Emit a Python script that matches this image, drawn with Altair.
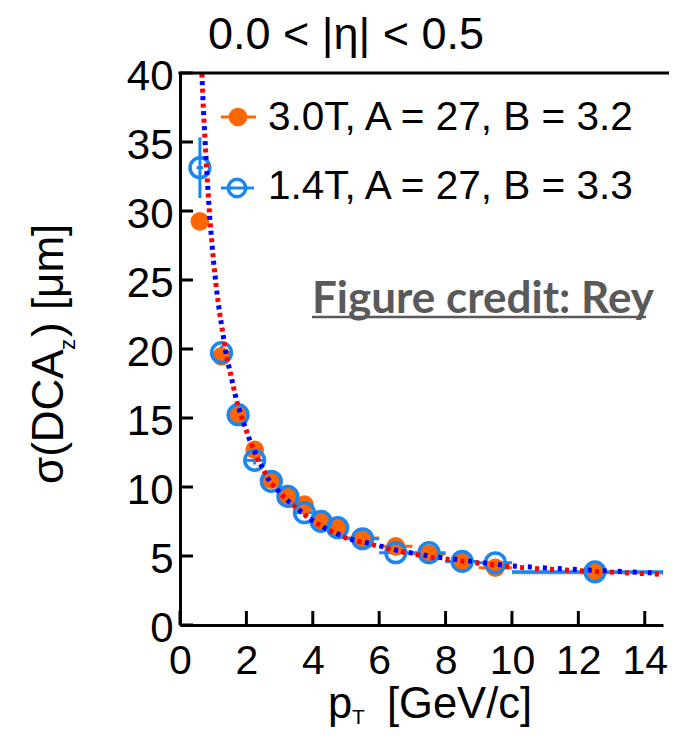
import altair as alt
import pandas as pd

# ---------------- data ----------------
pt_center = [0.6, 1.25, 1.75, 2.25, 2.75, 3.25, 3.75, 4.25, 4.75, 5.5, 6.5, 7.5, 8.5, 9.5, 12.5]
pt_lo = [0.5, 1.0, 1.5, 2.0, 2.5, 3.0, 3.5, 4.0, 4.5, 5.0, 6.0, 7.0, 8.0, 9.0, 10.0]
pt_hi = [0.7, 1.5, 2.0, 2.5, 3.0, 3.5, 4.0, 4.5, 5.0, 6.0, 7.0, 8.0, 9.0, 10.0, 15.0]

sigma_30T = [29.25, 19.46, 15.24, 12.70, 10.53, 9.32, 8.72, 7.51, 7.00, 6.30, 5.70, 5.15, 4.61, 4.15, 3.79]
err_30T = [0.6, 0.4, 0.3, 0.3, 0.2, 0.2, 0.2, 0.2, 0.2, 0.2, 0.2, 0.2, 0.2, 0.2, 0.2]
sigma_14T = [33.14, 19.73, 15.24, 11.93, 10.41, 9.32, 8.14, 7.51, 7.05, 6.25, 5.24, 5.24, 4.61, 4.51, 3.85]
err_14T = [2.2, 0.5, 0.4, 0.3, 0.3, 0.2, 0.2, 0.2, 0.2, 0.2, 0.2, 0.2, 0.2, 0.2, 0.2]

fit_pt = [0.65, 0.7, 0.8, 0.9, 1.0, 1.1, 1.2, 1.4, 1.7, 1.85, 2.1, 2.35, 2.7, 3.2, 3.9,
          4.4, 5.1, 5.5, 6.55, 7.6, 8.6, 9.8, 11.0, 12.5, 14.0, 15.0]
fit_30T = [40.5, 37.6, 33.1, 29.4, 26.6, 24.3, 22.5, 19.5, 16.3, 15.1, 13.4, 12.0, 10.4, 9.1, 7.7,
           6.95, 6.2, 6.0, 5.35, 4.9, 4.6, 4.25, 4.05, 3.88, 3.72, 3.64]
fit_14T = [40.5, 37.6, 33.1, 29.4, 26.6, 24.3, 22.5, 19.5, 16.3, 15.1, 13.4, 12.0, 10.4, 9.1, 7.7,
           6.97, 6.23, 6.04, 5.4, 4.96, 4.67, 4.32, 4.13, 3.96, 3.80, 3.73]

x_ticks = [0, 2, 4, 6, 8, 10, 12, 14]
y_ticks = [0, 5, 10, 15, 20, 25, 30, 35, 40]
legend_labels = ["3.0T, A = 27, B = 3.2", "1.4T, A = 27, B = 3.3"]
title_text = "0.0 < |η| < 0.5"
credit_text = "Figure credit: Rey"

ORANGE = "#ff6600"
BLUE = "#1a86f0"
FONT = "Liberation Sans"
W, H = 483, 552

pts = pd.DataFrame({
    "pt": pt_center * 2,
    "lo": pt_lo * 2,
    "hi": pt_hi * 2,
    "sig": sigma_30T + sigma_14T,
    "ylo": [s - e for s, e in zip(sigma_30T, err_30T)] + [s - e for s, e in zip(sigma_14T, err_14T)],
    "yhi": [s + e for s, e in zip(sigma_30T, err_30T)] + [s + e for s, e in zip(sigma_14T, err_14T)],
    "set": ["3.0T"] * len(pt_center) + ["1.4T"] * len(pt_center),
})
p30 = pts[pts.set == "3.0T"]
p14 = pts[pts.set == "1.4T"]
fit30 = pd.DataFrame({"pt": fit_pt, "sig": fit_30T})
fit14 = pd.DataFrame({"pt": fit_pt, "sig": fit_14T})
xt = pd.DataFrame({"v": x_ticks})
yt = pd.DataFrame({"v": y_ticks})
one = pd.DataFrame({"a": [0]})

xs = alt.Scale(domain=[0, 14.55], nice=False, zero=False)
ys = alt.Scale(domain=[0, 40], nice=False)
xaxis = alt.Axis(values=x_ticks, title=None, grid=False, tickSize=0, labelPadding=16,
                 labelFontSize=41, labelFont=FONT, labelColor="black", domainWidth=3,
                 domainColor="black", labelFlush=False, labelOverlap=False)
yaxis = alt.Axis(values=y_ticks, title=None, grid=False, tickSize=0, labelPadding=7,
                 labelFontSize=42, labelFont=FONT, labelColor="black", domainWidth=3,
                 domainColor="black", labelOffset=3, labelOverlap=False, labelFlush=False)

def X(f):
    return alt.X(f, type="quantitative", scale=xs, axis=xaxis)

def Y(f):
    return alt.Y(f, type="quantitative", scale=ys, axis=yaxis)

layers = []
# horizontal bin bars and vertical error bars
for df, col in ((p30, ORANGE), (p14, BLUE)):
    layers.append(alt.Chart(df).mark_rule(color=col, strokeWidth=3, clip=True).encode(
        x=X("lo"), x2="hi", y=Y("sig")))
    layers.append(alt.Chart(df).mark_rule(color=col, strokeWidth=3, clip=True).encode(
        x=X("pt"), y=Y("ylo"), y2="yhi"))
# markers
layers.append(alt.Chart(p30).mark_point(shape="circle", filled=True, size=350, color=ORANGE,
                                         opacity=1).encode(x=X("pt"), y=Y("sig")))
layers.append(alt.Chart(p14).mark_point(shape="circle", filled=False, size=390, color=BLUE,
                                         strokeWidth=3.5, opacity=1).encode(x=X("pt"), y=Y("sig")))
# fit curves (dotted, alternating red / blue)
layers.append(alt.Chart(fit30).mark_line(color="#ff0000", strokeWidth=5, strokeDash=[4, 11],
                                          strokeDashOffset=7.5, clip=True).encode(x=X("pt"), y=Y("sig")))
layers.append(alt.Chart(fit14).mark_line(color="#0000ff", strokeWidth=5, strokeDash=[4, 11],
                                          clip=True).encode(x=X("pt"), y=Y("sig")))
# inward ticks
layers.append(alt.Chart(yt).mark_rule(color="black", strokeWidth=3).encode(
    y=Y("v"), x=alt.value(0), x2=alt.value(13)))
layers.append(alt.Chart(xt).mark_rule(color="black", strokeWidth=3).encode(
    x=X("v"), y=alt.value(H), y2=alt.value(H - 14)))
# top frame line
layers.append(alt.Chart(one).mark_rule(color="black", strokeWidth=3).encode(
    x=alt.value(-1.5), x2=alt.value(W + 6), y=alt.value(0)))

def txt(s, x, y, size, **kw):
    return alt.Chart(one).mark_text(fontSize=size, font=kw.pop("font", FONT), **kw).encode(
        x=alt.value(x), y=alt.value(y), text=alt.value(s))

# title
layers.append(txt(title_text, 166, -38, 45, align="center", baseline="middle", color="black"))
# legend
layers.append(alt.Chart(one).mark_rule(color=ORANGE, strokeWidth=3).encode(
    x=alt.value(41), x2=alt.value(76), y=alt.value(44)))
layers.append(alt.Chart(one).mark_point(shape="circle", filled=True, size=350, color=ORANGE,
                                         opacity=1).encode(x=alt.value(58), y=alt.value(44)))
layers.append(txt(legend_labels[0], 88, 45, 40.5, align="left", baseline="middle", color="black"))
layers.append(alt.Chart(one).mark_rule(color=BLUE, strokeWidth=3).encode(
    x=alt.value(41), x2=alt.value(74), y=alt.value(115)))
layers.append(alt.Chart(one).mark_point(shape="circle", filled=False, size=300, color=BLUE,
                                         strokeWidth=3.5, opacity=1).encode(x=alt.value(57), y=alt.value(115)))
layers.append(txt(legend_labels[1], 88, 114, 40.5, align="left", baseline="middle", color="black"))
# figure credit
layers.append(txt(credit_text, 132, 240, 44, font="Lato", fontWeight="bold", align="left",
                  baseline="alphabetic", color="#595959"))
layers.append(alt.Chart(one).mark_rule(color="#595959", strokeWidth=2.5).encode(
    x=alt.value(132), x2=alt.value(466), y=alt.value(244)))
# y title: sigma(DCA_z) [um]
layers.append(txt("σ(DCA", -117, 411, 44, angle=270, align="left", baseline="alphabetic", color="black"))
layers.append(txt("z", -105, 277, 22, angle=270, align="left", baseline="alphabetic", color="black"))
layers.append(txt(") [μm]", -117, 264, 44, angle=270, align="left", baseline="alphabetic", color="black"))
# x title: p_T [GeV/c]
layers.append(txt("p", 148, 645, 43.5, align="left", baseline="alphabetic", color="black"))
layers.append(txt("T", 172, 651, 21, align="left", baseline="alphabetic", color="black"))
layers.append(txt("[GeV/c]", 207, 645, 43.5, align="left", baseline="alphabetic", color="black"))

chart = alt.layer(*layers).properties(
    width=W, height=H,
    autosize=alt.AutoSizeParams(type="none"),
    padding={"left": 172, "top": 65, "right": 6, "bottom": 104},
    background="white",
).configure_view(stroke=None)

chart.save("out.html", embed_options={"renderer": "svg", "actions": False})
